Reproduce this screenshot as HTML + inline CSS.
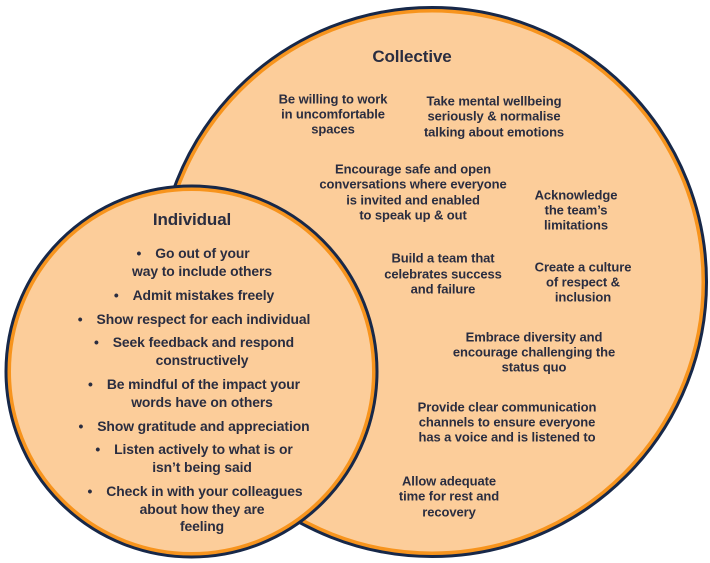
<!DOCTYPE html>
<html><head><meta charset="utf-8"><style>
html,body{margin:0;padding:0;background:#fff;}
body{width:710px;height:563px;position:relative;overflow:hidden;font-family:"Liberation Sans",sans-serif;color:#2a2d40;}
.t{position:absolute;white-space:nowrap;transform:translate(-50%,-50%);font-size:13px;font-weight:bold;letter-spacing:-0.1px;}
.i{font-size:13.9px;}
.b{display:inline-block;margin-right:14px;}
.h{font-size:17px;}
svg{position:absolute;left:0;top:0;}
</style></head><body>
<svg width="710" height="563">
<circle cx="432" cy="282" r="272" fill="#fccd9a" stroke="#f7941d" stroke-width="5"/>
<circle cx="432" cy="282" r="274.5" fill="none" stroke="#172849" stroke-width="3"/>
<circle cx="191.5" cy="371.5" r="183" fill="#fccd9a" stroke="#f7941d" stroke-width="5"/>
<circle cx="191.5" cy="371.5" r="185.5" fill="none" stroke="#172849" stroke-width="3"/>
</svg>
<div class="t h" style="left:412px;top:57px">Collective</div>
<div class="t" style="left:333px;top:99px">Be willing to work</div>
<div class="t" style="left:333px;top:114px">in uncomfortable</div>
<div class="t" style="left:333px;top:129px">spaces</div>
<div class="t" style="left:494px;top:101px">Take mental wellbeing</div>
<div class="t" style="left:494px;top:116px">seriously &amp; normalise</div>
<div class="t" style="left:494px;top:132px">talking about emotions</div>
<div class="t" style="left:413px;top:169px">Encourage safe and open</div>
<div class="t" style="left:413px;top:184px">conversations where everyone</div>
<div class="t" style="left:413px;top:200px">is invited and enabled</div>
<div class="t" style="left:413px;top:215px">to speak up &amp; out</div>
<div class="t" style="left:576px;top:195px">Acknowledge</div>
<div class="t" style="left:576px;top:210px">the team’s</div>
<div class="t" style="left:576px;top:225px">limitations</div>
<div class="t" style="left:443px;top:258px">Build a team that</div>
<div class="t" style="left:443px;top:274px">celebrates success</div>
<div class="t" style="left:443px;top:289px">and failure</div>
<div class="t" style="left:583px;top:267px">Create a culture</div>
<div class="t" style="left:583px;top:282px">of respect &amp;</div>
<div class="t" style="left:583px;top:297px">inclusion</div>
<div class="t" style="left:534px;top:337px">Embrace diversity and</div>
<div class="t" style="left:534px;top:352px">encourage challenging the</div>
<div class="t" style="left:534px;top:367px">status quo</div>
<div class="t" style="left:507px;top:407px">Provide clear communication</div>
<div class="t" style="left:507px;top:422px">channels to ensure everyone</div>
<div class="t" style="left:507px;top:437px">has a voice and is listened to</div>
<div class="t" style="left:449px;top:481px">Allow adequate</div>
<div class="t" style="left:449px;top:496px">time for rest and</div>
<div class="t" style="left:449px;top:512px">recovery</div>

<div class="t h" style="left:192px;top:220px">Individual</div>
<div class="t i" style="left:193px;top:253px"><span class="b">•</span>Go out of your</div>
<div class="t i" style="left:202px;top:271px">way to include others</div>
<div class="t i" style="left:194px;top:295px"><span class="b">•</span>Admit mistakes freely</div>
<div class="t i" style="left:194px;top:319px"><span class="b">•</span>Show respect for each individual</div>
<div class="t i" style="left:194px;top:342px"><span class="b">•</span>Seek feedback and respond</div>
<div class="t i" style="left:202px;top:360px">constructively</div>
<div class="t i" style="left:194px;top:384px"><span class="b">•</span>Be mindful of the impact your</div>
<div class="t i" style="left:194px;top:426px"><span class="b">•</span>Show gratitude and appreciation</div>
<div class="t i" style="left:202px;top:402px">words have on others</div>
<div class="t i" style="left:194px;top:449px"><span class="b">•</span>Listen actively to what is or</div>
<div class="t i" style="left:202px;top:467px">isn’t being said</div>
<div class="t i" style="left:195px;top:491px"><span class="b">•</span>Check in with your colleagues</div>
<div class="t i" style="left:202px;top:509px">about how they are</div>
<div class="t i" style="left:202px;top:526px">feeling</div>
</body></html>
